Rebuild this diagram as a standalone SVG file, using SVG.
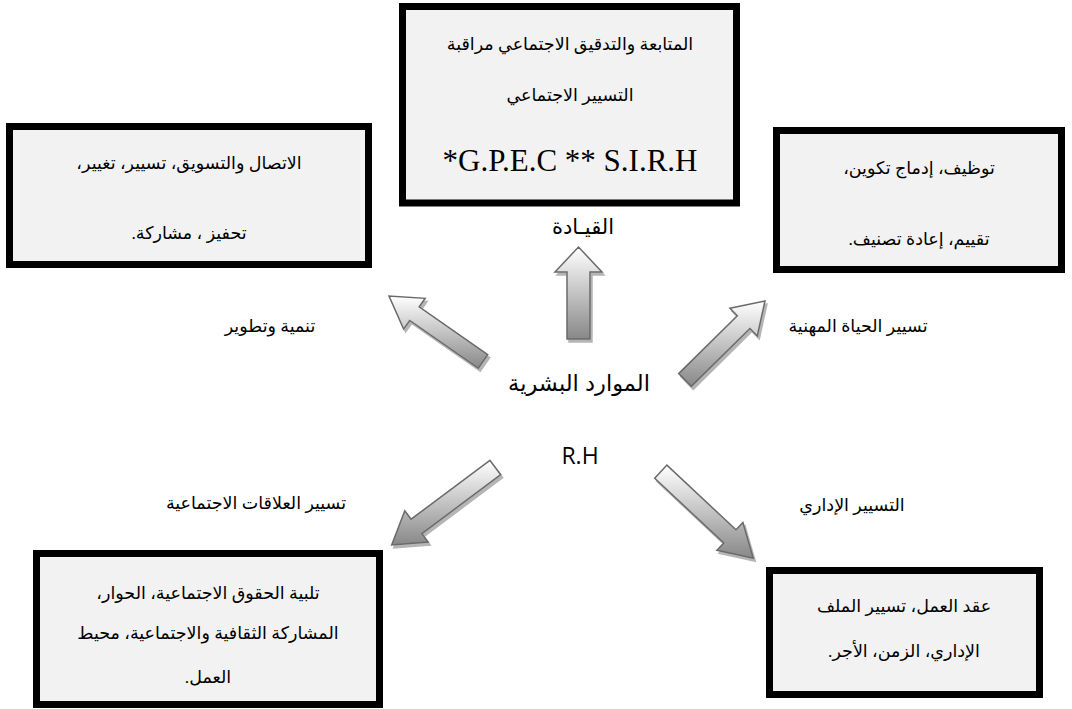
<svg xmlns="http://www.w3.org/2000/svg" width="1072" height="709" viewBox="0 0 1072 709">
<style>
.box{fill:#f2f2f2;stroke:#000;stroke-width:7}
.ar{font-family:"Liberation Serif","DejaVu Sans",serif;font-size:17.5px;fill:#000;text-anchor:middle;direction:rtl;unicode-bidi:embed}
.lat{font-family:"Liberation Serif",serif;font-size:31px;fill:#000;text-anchor:middle}
.sans{font-family:"Liberation Sans","DejaVu Sans",sans-serif;font-size:21px;fill:#000;text-anchor:middle;direction:rtl;unicode-bidi:embed}
.rh{font-family:"Open Sans","Liberation Sans",sans-serif;font-size:23px;fill:#000;text-anchor:middle}
.arrow{fill:url(#g);stroke:#6a6a6a;stroke-width:1.5;filter:url(#sh)}
</style>
<defs>
<linearGradient id="g" x1="0" y1="0" x2="0" y2="1">
<stop offset="0" stop-color="#ffffff"/>
<stop offset="1" stop-color="#888888"/>
</linearGradient>
<filter id="sh" x="-20%" y="-20%" width="140%" height="140%">
<feDropShadow dx="2" dy="3" stdDeviation="0.6" flood-color="#b5b5b5" flood-opacity="1"/>
</filter>
</defs>
<rect width="1072" height="709" fill="#fff"/>

<g id="connectors">
<polygon class="arrow" points="567,339 567,272 555,272 578.5,247 602,272 590,272 590,339"/>
<polygon class="arrow" points="487.7,354.7 419.2,306.9 425.2,298.3 389,296 403.6,329.1 409.7,320.5 478.3,368.3"/>
<polygon class="arrow" points="691.3,386.4 749.9,328.5 757.3,336 765,301 729.9,308.2 737.3,315.7 678.7,373.6"/>
<polygon class="arrow" points="489.9,460.3 411.1,519.2 404.8,510.8 391.7,545 428.2,542 421.9,533.6 500.7,474.7"/>
<polygon class="arrow" points="654.7,478.3 723.8,543 716.9,550.3 753.3,558.3 742.9,522.5 736,529.8 666.9,465.1"/>
</g>

<g id="node-top">
<rect class="box" x="402.5" y="6.5" width="334" height="196.5"/>
<text class="ar" x="570" y="50">المتابعة والتدقيق الاجتماعي مراقبة</text>
<text class="ar" x="570" y="101">التسيير الاجتماعي</text>
<text class="lat" x="570" y="171">*G.P.E.C ** S.I.R.H</text>
</g>

<g id="node-top-left">
<rect class="box" x="9.5" y="126.5" width="359" height="138"/>
<text class="ar" x="189" y="169">الاتصال والتسويق، تسيير، تغيير،</text>
<text class="ar" x="189" y="239">تحفيز ، مشاركة.</text>
</g>

<g id="node-top-right">
<rect class="box" x="776.5" y="130.5" width="285" height="139"/>
<text class="ar" x="919" y="174">توظيف، إدماج تكوين،</text>
<text class="ar" x="919" y="245">تقييم، إعادة تصنيف.</text>
</g>

<g id="node-bottom-left">
<rect class="box" x="36.5" y="553.5" width="343" height="151"/>
<text class="ar" x="208" y="599">تلبية الحقوق الاجتماعية، الحوار،</text>
<text class="ar" x="208" y="639">المشاركة الثقافية والاجتماعية، محيط</text>
<text class="ar" x="208" y="683">العمل.</text>
</g>

<g id="node-bottom-right">
<rect class="box" x="769.5" y="570.5" width="270" height="124"/>
<text class="ar" x="904" y="612">عقد العمل، تسيير الملف</text>
<text class="ar" x="904" y="657">الإداري، الزمن، الأجر.</text>
</g>

<g id="node-center">
<text class="sans" x="579" y="391" style="font-size:22.5px">الموارد البشرية</text>
<text class="rh" x="580" y="464">R.H</text>
</g>

<g id="label-leadership">
<text class="sans" x="583" y="234">القيـادة</text>
</g>
<g id="label-development">
<text class="ar" x="270" y="332">تنمية وتطوير</text>
</g>
<g id="label-career">
<text class="ar" x="858" y="332">تسيير الحياة المهنية</text>
</g>
<g id="label-social">
<text class="ar" x="256" y="509">تسيير العلاقات الاجتماعية</text>
</g>
<g id="label-admin">
<text class="ar" x="852" y="511">التسيير الإداري</text>
</g>
</svg>
